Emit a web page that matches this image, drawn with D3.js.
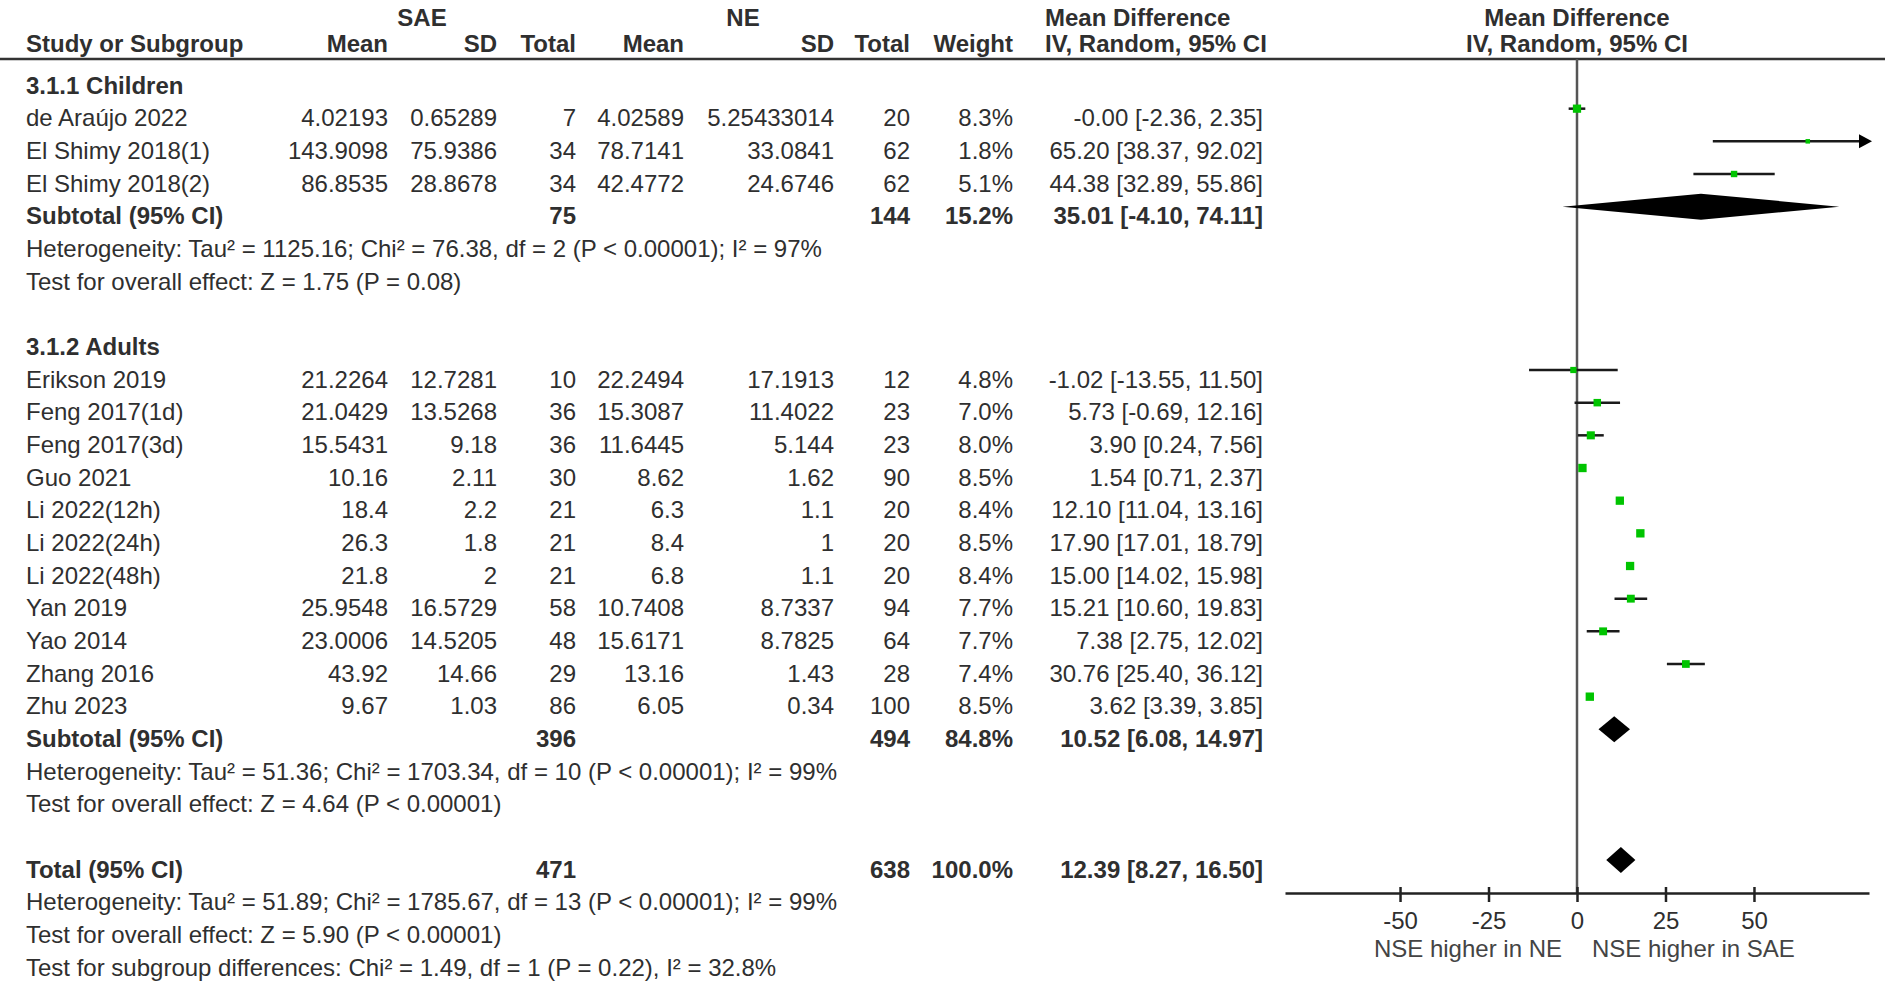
<!DOCTYPE html>
<html>
<head>
<meta charset="utf-8">
<script src="https://cdn.jsdelivr.net/npm/d3@7"></script>
<style>
  body { margin: 0; background: #fff; }
  text { font-family: "Liberation Sans", Arial, sans-serif; font-size: 24px; fill: #2f2f2f; }
</style>
</head>
<body>
<script>
// study level data
const studyNames = ["de Araújo 2022", "El Shimy 2018(1)", "El Shimy 2018(2)", "Erikson 2019", "Feng 2017(1d)", "Feng 2017(3d)",
  "Guo 2021", "Li 2022(12h)", "Li 2022(24h)", "Li 2022(48h)", "Yan 2019", "Yao 2014", "Zhang 2016", "Zhu 2023"];
const studyGroup = [0, 0, 0, 1, 1, 1, 1, 1, 1, 1, 1, 1, 1, 1];
const saeMean = [4.02193, 143.9098, 86.8535, 21.2264, 21.0429, 15.5431, 10.16, 18.4, 26.3, 21.8, 25.9548, 23.0006, 43.92, 9.67];
const saeSD = [0.65289, 75.9386, 28.8678, 12.7281, 13.5268, 9.18, 2.11, 2.2, 1.8, 2, 16.5729, 14.5205, 14.66, 1.03];
const saeTotal = [7, 34, 34, 10, 36, 36, 30, 21, 21, 21, 58, 48, 29, 86];
const neMean = [4.02589, 78.7141, 42.4772, 22.2494, 15.3087, 11.6445, 8.62, 6.3, 8.4, 6.8, 10.7408, 15.6171, 13.16, 6.05];
const neSD = [5.25433014, 33.0841, 24.6746, 17.1913, 11.4022, 5.144, 1.62, 1.1, 1, 1.1, 8.7337, 8.7825, 1.43, 0.34];
const neTotal = [20, 62, 62, 12, 23, 23, 90, 20, 20, 20, 94, 64, 28, 100];
const weight = [8.3, 1.8, 5.1, 4.8, 7.0, 8.0, 8.5, 8.4, 8.5, 8.4, 7.7, 7.7, 7.4, 8.5];
const md = [-0, 65.20, 44.38, -1.02, 5.73, 3.90, 1.54, 12.10, 17.90, 15.00, 15.21, 7.38, 30.76, 3.62];
const ciLow = [-2.36, 38.37, 32.89, -13.55, -0.69, 0.24, 0.71, 11.04, 17.01, 14.02, 10.60, 2.75, 25.40, 3.39];
const ciHigh = [2.35, 92.02, 55.86, 11.50, 12.16, 7.56, 2.37, 13.16, 18.79, 15.98, 19.83, 12.02, 36.12, 3.85];

// subgroups
const groupNames = ["3.1.1 Children", "3.1.2 Adults"];
const subSaeTotal = [75, 396];
const subNeTotal = [144, 494];
const subWeight = [15.2, 84.8];
const subMd = [35.01, 10.52];
const subLow = [-4.10, 6.08];
const subHigh = [74.11, 14.97];
const subHet = ["Heterogeneity: Tau² = 1125.16; Chi² = 76.38, df = 2 (P < 0.00001); I² = 97%",
  "Heterogeneity: Tau² = 51.36; Chi² = 1703.34, df = 10 (P < 0.00001); I² = 99%"];
const subTest = ["Test for overall effect: Z = 1.75 (P = 0.08)", "Test for overall effect: Z = 4.64 (P < 0.00001)"];

// overall
const totalSae = 471, totalNe = 638, totalWeight = 100.0;
const totalMd = 12.39, totalLow = 8.27, totalHigh = 16.50;
const totalNotes = ["Heterogeneity: Tau² = 51.89; Chi² = 1785.67, df = 13 (P < 0.00001); I² = 99%",
  "Test for overall effect: Z = 5.90 (P < 0.00001)",
  "Test for subgroup differences: Chi² = 1.49, df = 1 (P = 0.22), I² = 32.8%"];

const axisTicks = [-50, -25, 0, 25, 50];
const favourLeft = "NSE higher in NE", favourRight = "NSE higher in SAE";

const W = 1901, H = 983;
const svg = d3.select("body").append("svg").attr("width", W).attr("height", H);

// column anchors
const col = { study: 26, saeMean: 388, saeSD: 497, saeTotal: 576, neMean: 684, neSD: 834, neTotal: 910, weight: 1013, ciLeft: 1045, ci: 1263 };
const x = d3.scaleLinear().domain([-82.5, 82.5]).range([1285, 1869]);
const rowY = d3.scaleLinear().domain([0, 27]).range([85, 967]);
const markShift = -9;
const axisY = 893;

const fmt2 = v => ((v < 0 || Object.is(v, -0)) ? "-" : "") + Math.abs(v).toFixed(2);
const ciText = (m, l, h) => `${fmt2(m)} [${fmt2(l)}, ${fmt2(h)}]`;

function txt(xp, yc, s, anchor, bold) {
  return svg.append("text").attr("x", xp).attr("y", yc + 8.6)
    .attr("text-anchor", anchor || "start")
    .style("font-weight", bold ? "bold" : "normal")
    .text(s);
}

// header
txt(422, 17, "SAE", "middle", true);
txt(743, 17, "NE", "middle", true);
txt(col.ciLeft, 17, "Mean Difference", "start", true);
txt(x(0), 17, "Mean Difference", "middle", true);
txt(col.study, 43, "Study or Subgroup", "start", true);
txt(col.saeMean, 43, "Mean", "end", true);
txt(col.saeSD, 43, "SD", "end", true);
txt(col.saeTotal, 43, "Total", "end", true);
txt(col.neMean, 43, "Mean", "end", true);
txt(col.neSD, 43, "SD", "end", true);
txt(col.neTotal, 43, "Total", "end", true);
txt(col.weight, 43, "Weight", "end", true);
txt(col.ciLeft, 43, "IV, Random, 95% CI", "start", true);
txt(x(0), 43, "IV, Random, 95% CI", "middle", true);
svg.append("line").attr("x1", 0).attr("x2", 1885).attr("y1", 59).attr("y2", 59)
  .attr("stroke", "#333").attr("stroke-width", 2.5);

// zero line
svg.append("line").attr("x1", x(0)).attr("x2", x(0)).attr("y1", 59).attr("y2", axisY)
  .attr("stroke", "#555").attr("stroke-width", 2.5);

const sq = d3.scaleLinear().domain([0, 10]).range([3.5, 9.2]);
const plot = svg.append("g");

function diamond(yc, m, l, h) {
  const hh = 13;
  plot.append("path")
    .attr("d", `M${x(l)},${yc} L${x(m)},${yc - hh} L${x(h)},${yc} L${x(m)},${yc + hh} Z`)
    .attr("fill", "#000");
}

let r = 0;
groupNames.forEach((g, gi) => {
  txt(col.study, rowY(r), g, "start", true);
  r++;
  studyNames.forEach((name, i) => {
    if (studyGroup[i] !== gi) return;
    const yc = rowY(r);
    txt(col.study, yc, name);
    txt(col.saeMean, yc, String(saeMean[i]), "end");
    txt(col.saeSD, yc, String(saeSD[i]), "end");
    txt(col.saeTotal, yc, String(saeTotal[i]), "end");
    txt(col.neMean, yc, String(neMean[i]), "end");
    txt(col.neSD, yc, String(neSD[i]), "end");
    txt(col.neTotal, yc, String(neTotal[i]), "end");
    txt(col.weight, yc, weight[i].toFixed(1) + "%", "end");
    txt(col.ci, yc, ciText(md[i], ciLow[i], ciHigh[i]), "end");
    const ym = yc + markShift;
    const [dmin, dmax] = x.domain();
    const clipped = ciHigh[i] > dmax;
    const hiX = clipped ? x(dmax) - 10 : x(ciHigh[i]);
    plot.append("line").attr("x1", x(Math.max(ciLow[i], dmin))).attr("x2", hiX)
      .attr("y1", ym).attr("y2", ym).attr("stroke", "#1a1a1a").attr("stroke-width", 2.5);
    if (clipped) {
      const tx = x(dmax) + 3;
      plot.append("path").attr("d", `M${tx},${ym} L${tx - 13},${ym - 7} L${tx - 13},${ym + 7} Z`).attr("fill", "#000");
    }
    const s = sq(weight[i]);
    plot.append("rect").attr("x", x(md[i]) - s / 2).attr("y", ym - s / 2)
      .attr("width", s).attr("height", s).attr("fill", "#00c400");
    r++;
  });
  const yc = rowY(r);
  txt(col.study, yc, "Subtotal (95% CI)", "start", true);
  txt(col.saeTotal, yc, String(subSaeTotal[gi]), "end", true);
  txt(col.neTotal, yc, String(subNeTotal[gi]), "end", true);
  txt(col.weight, yc, subWeight[gi].toFixed(1) + "%", "end", true);
  txt(col.ci, yc, ciText(subMd[gi], subLow[gi], subHigh[gi]), "end", true);
  diamond(yc + markShift, subMd[gi], subLow[gi], subHigh[gi]);
  r++;
  txt(col.study, rowY(r), subHet[gi]); r++;
  txt(col.study, rowY(r), subTest[gi]); r++;
  r++; // blank row
});

// overall
const yt = rowY(r);
txt(col.study, yt, "Total (95% CI)", "start", true);
txt(col.saeTotal, yt, String(totalSae), "end", true);
txt(col.neTotal, yt, String(totalNe), "end", true);
txt(col.weight, yt, totalWeight.toFixed(1) + "%", "end", true);
txt(col.ci, yt, ciText(totalMd, totalLow, totalHigh), "end", true);
diamond(yt + markShift, totalMd, totalLow, totalHigh);
r++;
totalNotes.forEach(n => { txt(col.study, rowY(r), n); r++; });

// axis
const ax = svg.append("g").attr("transform", `translate(0,${axisY})`)
  .call(d3.axisBottom(x).tickValues(axisTicks).tickSizeInner(8).tickSizeOuter(0).tickFormat(d => String(d)));
ax.select(".domain").attr("stroke", "#222").attr("stroke-width", 2.5);
ax.selectAll(".tick line").attr("y1", -6).attr("y2", 9).attr("stroke", "#222").attr("stroke-width", 2.5);
ax.selectAll(".tick text").attr("y", 35.6).attr("dy", 0)
  .style("font-size", "24px").style("font-family", "\"Liberation Sans\", Arial, sans-serif").attr("fill", "#2f2f2f");

txt(x(0) - 15, 948, favourLeft, "end").style("fill", "#444");
txt(x(0) + 15, 948, favourRight, "start").style("fill", "#444");
</script>
</body>
</html>
